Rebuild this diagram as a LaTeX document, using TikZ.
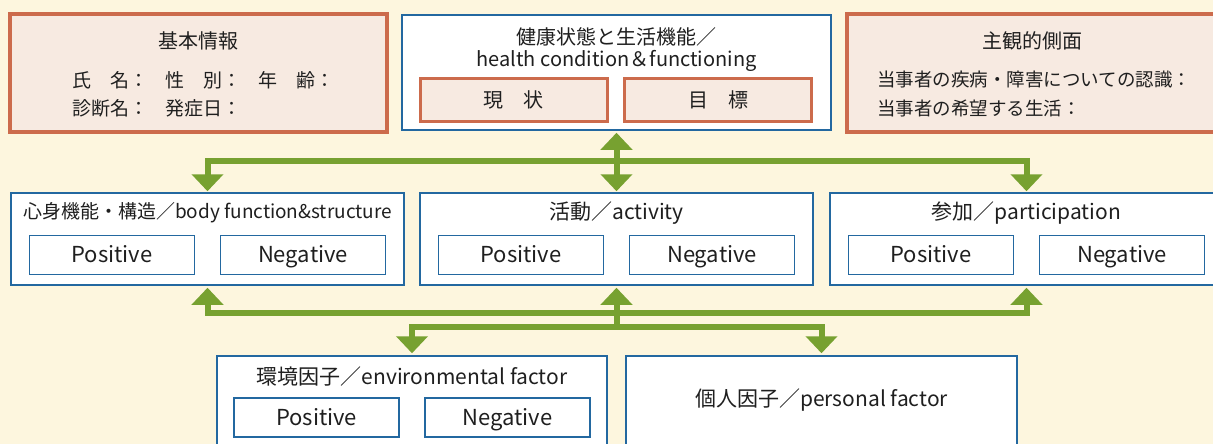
\documentclass[tikz,border=0pt]{standalone}
\usepackage{fontspec}
\setmainfont{Noto Sans CJK JP}
\usetikzlibrary{arrows.meta}

\begin{document}
\begin{tikzpicture}[x=1pt, y=-1pt]
    \definecolor{haikei}{RGB}{253,246,222}
    \definecolor{aka}{RGB}{204,107,76}
    \definecolor{usuaka}{RGB}{247,234,225}
    \definecolor{ao}{RGB}{35,104,160}
    \definecolor{midori}{RGB}{119,161,48}

    \tikzstyle{every node} = [text=black!88, inner sep=0pt]
    \tikzstyle{kihon} = [draw=aka, line width=3.5pt, fill=usuaka]
    \tikzstyle{waku} = [draw=ao, line width=1.5pt, fill=white]
    \tikzstyle{pn} = [draw=ao, line width=1.5pt, fill=white, minimum width=165pt, minimum height=39pt,
                      text height=18pt, text depth=3pt, font=\fontsize{22}{24}\selectfont]
    \tikzstyle{midashi} = [font=\fontsize{20}{22}\selectfont]
    \tikzstyle{gyou} = [anchor=west, font=\fontsize{19}{22}\selectfont]
    \tikzstyle{sen} = [draw=midori, line width=6pt]
    \tikzstyle{ya} = [-{Triangle[width=31pt, length=17pt]}, shorten >=2pt]

    \clip (0,0) rectangle (1213,444);
    \fill[haikei] (0,0) rectangle (1213,444);

    % top row
    \node[kihon, minimum width=377pt, minimum height=118pt] (info) at (198.5,73) {};
    \node[midashi] (info-t) at (198.5,41) {基本情報};
    \node[gyou] (shimei) at (72,80) {氏　名：};
    \node[gyou] (seibetsu) at (165,80) {性　別：};
    \node[gyou] (nenrei) at (258,80) {年　齢：};
    \node[gyou] (shindan) at (72,108) {診断名：};
    \node[gyou] (hasshou) at (165,108) {発症日：};

    \node[waku, minimum width=429pt, minimum height=115pt] (health) at (616.5,72.5) {};
    \node[midashi, align=center] (health-t) at (616.5,50) {健康状態と生活機能／\\health condition＆functioning};
    \node[kihon, line width=3pt, minimum width=187pt, minimum height=42pt, font=\fontsize{20}{22}\selectfont] (genjou) at (513.5,100) {現　状};
    \node[kihon, line width=3pt, minimum width=187pt, minimum height=42pt, font=\fontsize{20}{22}\selectfont] (mokuhyou) at (718,100) {目　標};

    \node[kihon, minimum width=370pt, minimum height=118pt] (subj) at (1032,73) {};
    \node[midashi] (subj-t) at (1032,41) {主観的側面};
    \node[gyou, font=\fontsize{18.5}{22}\selectfont] (ninshiki) at (877,80) {当事者の疾病・障害についての認識：};
    \node[gyou, font=\fontsize{18.5}{22}\selectfont] (kibou) at (877,108) {当事者の希望する生活：};

    % middle row
    \foreach \n/\x/\t/\s in {body/207.5/{心身機能・構造／body function\&structure}/19,
                             act/616.5/{活動／activity}/21,
                             part/1026.5/{参加／participation}/21} {
        \node[waku, minimum width=393pt, minimum height=92pt] (\n) at (\x,239) {};
        \node[font=\fontsize{\s}{24}\selectfont] (\n-t) at (\x,213) {\t};
        \node[pn] (\n-pos) at (\x-95.5,255) {Positive};
        \node[pn] (\n-neg) at (\x+95.5,255) {Negative};
    }

    % bottom row
    \node[waku, minimum width=390pt, minimum height=96pt] (env) at (412,404) {};
    \node[font=\fontsize{21}{24}\selectfont] (env-t) at (412,377) {環境因子／environmental factor};
    \node[pn] (env-pos) at (316.5,417.5) {Positive};
    \node[pn] (env-neg) at (507.5,417.5) {Negative};

    \node[waku, minimum width=391pt, minimum height=96pt] (pers) at (821.5,404) {};
    \node[font=\fontsize{21}{24}\selectfont] (pers-t) at (821.5,400) {個人因子／personal factor};

    % connectors
    \coordinate (ue) at (616.5,161);
    \coordinate (shita) at (616.5,313);
    \coordinate (shita2) at (616.5,326.5);

    \draw[sen, {Triangle[width=31pt, length=17pt]}-{Triangle[width=31pt, length=17pt]}, shorten <=2pt, shorten >=1pt] (health.south) -- (act.north);
    \draw[sen, ya, shorten >=1pt] (ue) -| (body.north);
    \draw[sen, ya, shorten >=1pt] (ue) -| (part.north);

    \draw[sen, ya] (shita) -| (body.south);
    \draw[sen, ya] (shita) -- (act.south);
    \draw[sen, ya] (shita) -| (part.south);
    \draw[sen] (shita) -- (shita2);
    \draw[sen, ya] (shita2) -| (env.north);
    \draw[sen, ya] (shita2) -| (pers.north);
\end{tikzpicture}
\end{document}
